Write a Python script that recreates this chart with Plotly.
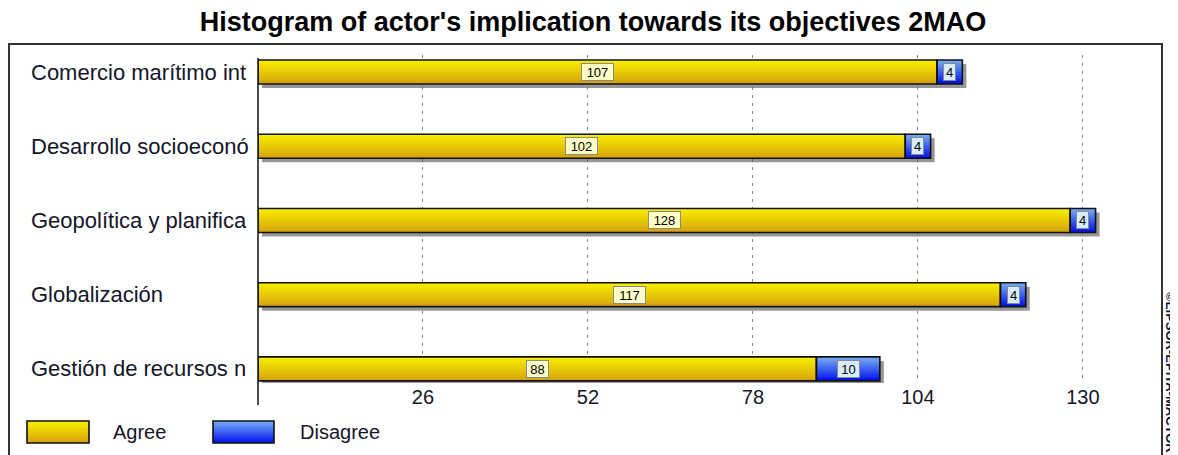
import plotly.graph_objects as go

# ---- data ----
actors = ["Comercio marítimo int", "Desarrollo socioeconó", "Geopolítica y planifica",
          "Globalización", "Gestión de recursos n"]
agree = [107, 102, 128, 117, 88]
disagree = [4, 4, 4, 4, 10]
x_ticks = [26, 52, 78, 104, 130]
series_names = ["Agree", "Disagree"]

# ---- layout geometry (target screenshot pixels; page body has an 8px margin) ----
OFF = 8
W_FIG, H_FIG = 1178 - OFF, 455 - OFF
L, R, T, B = 258 - OFF, 1140 - OFF, 55 - OFF, 383 - OFF
PW, PH = R - L, B - T
X_MAX = 139
Y_TOP, Y_BOT = -0.229, 4.19
BAR_W = 0.323
px_per_x = PW / X_MAX
px_per_y = PH / (Y_BOT - Y_TOP)

def pxx(x):
    return (x - OFF - L) / PW

def pxy(y):
    return (B - (y - OFF)) / PH

FONT = "Liberation Sans, Arial, sans-serif"
TXT = "#15152a"

def lerp(c1, c2, t):
    return "rgb(%d,%d,%d)" % tuple(round(a + (b - a) * t) for a, b in zip(c1, c2))

Y_TOPC, Y_BOTC = (250, 240, 0), (212, 162, 12)
B_TOPC, B_BOTC = (120, 176, 245), (0, 16, 235)
NS = 12

totals = [a + d for a, d in zip(agree, disagree)]
sh = 4  # shadow offset in px

fig = go.Figure()
# shadow
fig.add_trace(go.Bar(
    y=actors, x=totals, base=[sh / px_per_x] * len(actors), orientation="h",
    width=BAR_W, offset=-BAR_W / 2 + sh / px_per_y,
    marker=dict(color="rgba(80,80,80,0.6)", line=dict(width=0)),
    showlegend=False, hoverinfo="skip"))
# gradient slices (overlapping to avoid seams)
step = BAR_W / NS
for k in range(NS):
    t = (k + 0.5) / NS
    w = step if k == NS - 1 else step * 1.8
    w = min(w, BAR_W - k * step)
    for vals, base, c1, c2 in ((agree, [0] * len(actors), Y_TOPC, Y_BOTC),
                               (disagree, agree, B_TOPC, B_BOTC)):
        fig.add_trace(go.Bar(
            y=actors, x=vals, base=base, orientation="h",
            width=w, offset=-BAR_W / 2 + k * step,
            marker=dict(color=lerp(c1, c2, t), line=dict(width=0)),
            showlegend=False, hoverinfo="skip"))
# outlines
for name, vals, base in ((series_names[0], agree, [0] * len(actors)),
                         (series_names[1], disagree, agree)):
    fig.add_trace(go.Bar(
        y=actors, x=vals, base=base, orientation="h", name=name,
        width=BAR_W, marker=dict(color="rgba(0,0,0,0)", line=dict(color="#111111", width=1.6))))

ann = []
for cat, a, d in zip(actors, agree, disagree):
    for xv, v, bg in ((a / 2, a, "#FFFFC8"), (a + d / 2, d, "#D8ECFF")):
        ann.append(dict(x=xv, y=cat, xref="x", yref="y", text=str(v), showarrow=False,
                        width=10 * len(str(v)) - 1, height=14, align="center",
                        font=dict(family=FONT, size=13, color="#000"),
                        bgcolor=bg, bordercolor="#8A8A8A", borderwidth=1, borderpad=1))
    ann.append(dict(x=pxx(29), y=cat, xref="paper", yref="y", text=cat, showarrow=False,
                    xanchor="left", font=dict(family=FONT, size=22, color=TXT)))

# legend (manual)
shapes = []
leg = [(27, 89, 111, Y_TOPC, Y_BOTC, series_names[0]),
       (213, 274, 298, B_TOPC, B_BOTC, series_names[1])]
for x0, x1, xt, c1, c2, name in leg:
    n = 10
    for k in range(n):
        ya = 421 + k * 22 / n
        yb = min(443, 421 + (k + 1.8) * 22 / n)
        shapes.append(dict(type="rect", xref="paper", yref="paper", x0=pxx(x0), x1=pxx(x1),
                           y0=pxy(yb), y1=pxy(ya), fillcolor=lerp(c1, c2, (k + 0.5) / n),
                           line=dict(width=0), layer="above"))
    shapes.append(dict(type="rect", xref="paper", yref="paper", x0=pxx(x0), x1=pxx(x1),
                       y0=pxy(443), y1=pxy(421), fillcolor="rgba(0,0,0,0)",
                       line=dict(color="#111111", width=1.6), layer="above"))
    ann.append(dict(x=pxx(xt), y=pxy(432), xref="paper", yref="paper", text=name,
                    showarrow=False, xanchor="left", yanchor="middle",
                    font=dict(family=FONT, size=20, color=TXT)))

# outer frame
shapes.append(dict(type="rect", xref="paper", yref="paper", x0=pxx(9), x1=pxx(1162),
                   y0=pxy(470), y1=pxy(44), line=dict(color="#333333", width=2),
                   fillcolor="rgba(0,0,0,0)", layer="below"))
# y axis line
shapes.append(dict(type="line", xref="paper", yref="paper", x0=0, x1=0,
                   y0=pxy(405), y1=pxy(58), line=dict(color="#111111", width=1.5)))

# watermark
ann.append(dict(x=pxx(1171), y=pxy(372), xref="paper", yref="paper",
                text="<b>©LIPSOR-EPITA-MACTOR</b>", textangle=90, showarrow=False,
                xanchor="center", yanchor="middle",
                font=dict(family=FONT, size=13, color="#10103a")))

fig.update_layout(
    width=W_FIG, height=H_FIG,
    margin=dict(l=L, r=W_FIG - R, t=T, b=H_FIG - B, autoexpand=False),
    paper_bgcolor="white", plot_bgcolor="white",
    barmode="overlay", showlegend=False,
    title=dict(text="<b>Histogram of actor's implication towards its objectives 2MAO</b>",
               x=(593 - OFF) / W_FIG, xanchor="center", y=1 - (22 - OFF) / H_FIG,
               yanchor="middle", xref="container", yref="container",
               font=dict(family=FONT, size=27, color="#000")),
    xaxis=dict(range=[0, X_MAX], tickvals=x_ticks, showgrid=True, gridcolor="#888888",
               griddash="3px,5px", gridwidth=1, zeroline=False, showline=False,
               tickfont=dict(family=FONT, size=20, color=TXT), ticks="",
               fixedrange=True),
    yaxis=dict(type="category", categoryorder="array", categoryarray=actors,
               range=[Y_BOT, Y_TOP], showticklabels=False, showgrid=False,
               zeroline=False, showline=False, ticks=""),
    annotations=ann, shapes=shapes,
)

fig.write_html("out.html")
